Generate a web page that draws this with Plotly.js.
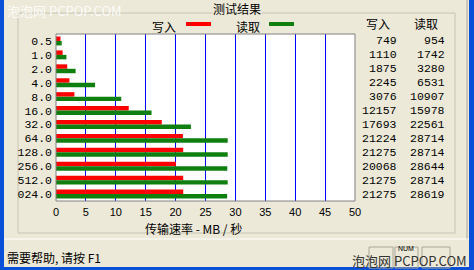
<!DOCTYPE html>
<html><head><meta charset="utf-8">
<script src="https://cdn.plot.ly/plotly-3.0.1.min.js"></script>
<style>html,body{margin:0;padding:0;background:#ECE9D8;}#chart{width:474px;height:270px;}</style>
</head><body><div id="chart"></div>
<script>
const categories = ["0.5","1.0","2.0","4.0","8.0","16.0","32.0","64.0","128.0","256.0","512.0","024.0"];
const writeKB = [749,1110,1875,2245,3076,12157,17693,21224,21275,20068,21275,21275];
const readKB  = [954,1742,3280,6531,10907,15978,22561,28714,28714,28644,28714,28619];
const xTicks = [0,5,10,15,20,25,30,35,40,45,50];
const seriesNames = ["写入","读取"];
const chartTitle = "测试结果";
const axisTitle = "传输速率 - MB / 秒";

const L=56, R=355, T=34, B=201;
const px = x => (x-L)/(R-L);
const py = y => (B-y)/(B-T);
const BG = "#ECE9D8", XPBLUE = "#0A4FD8";
const monoFont = {family:"Liberation Mono, DejaVu Sans Mono, monospace", size:11.5, color:"#000"};
const cjkFont = {family:"Noto Sans CJK SC, sans-serif", size:12, color:"#000"};

const traces = [
  {type:"bar", orientation:"h", y:categories, x:writeKB.map(v=>v/1000), marker:{color:"#FF0000", line:{width:0}}, name:seriesNames[0], hoverinfo:"none"},
  {type:"bar", orientation:"h", y:categories, x:readKB.map(v=>v/1000), marker:{color:"#0F800F", line:{width:0}}, name:seriesNames[1], hoverinfo:"none"}
];

const ann = [];
const shapes = [];
shapes.push({type:"rect", xref:"paper", yref:"paper", x0:px(0), x1:px(4), y0:py(0), y1:py(270), fillcolor:XPBLUE, line:{width:0}, layer:"below"});
shapes.push({type:"rect", xref:"paper", yref:"paper", x0:px(469), x1:px(474), y0:py(0), y1:py(270), fillcolor:XPBLUE, line:{width:0}, layer:"below"});
shapes.push({type:"rect", xref:"paper", yref:"paper", x0:px(0), x1:px(474), y0:py(267), y1:py(270), fillcolor:XPBLUE, line:{width:0}, layer:"below"});
shapes.push({type:"line", xref:"paper", yref:"paper", x0:px(467), x1:px(467), y0:py(0), y1:py(240), line:{color:"#ACA899", width:1}, layer:"below"});
shapes.push({type:"rect", xref:"paper", yref:"paper", x0:px(18), x1:px(455), y0:py(13), y1:py(233), line:{color:"#C8C4B4", width:1}, layer:"below"});
shapes.push({type:"line", xref:"paper", yref:"paper", x0:px(4), x1:px(469), y0:py(239), y1:py(239), line:{color:"#FFFFFF", width:1}, layer:"below"});
[[369,393],[395,418],[422,450]].forEach(p=>{
  shapes.push({type:"rect", xref:"paper", yref:"paper", x0:px(p[0]), x1:px(p[1]), y0:py(247), y1:py(268), line:{color:"#ACA899", width:1}, layer:"below"});
});
shapes.push({type:"rect", xref:"paper", yref:"paper", x0:0, x1:1, y0:0, y1:1, line:{color:"#808080", width:1}});
shapes.push({type:"line", xref:"paper", yref:"paper", x0:px(186), x1:px(211), y0:py(24), y1:py(24), line:{color:"#FF0000", width:4}});
shapes.push({type:"line", xref:"paper", yref:"paper", x0:px(269), x1:px(294), y0:py(24), y1:py(24), line:{color:"#0F800F", width:4}});

ann.push({xref:"paper", yref:"paper", x:px(237), y:py(8), text:chartTitle, showarrow:false, font:cjkFont, bgcolor:BG, borderpad:0, xanchor:"center", yanchor:"middle"});
ann.push({xref:"paper", yref:"paper", x:px(164), y:py(26), text:seriesNames[0], showarrow:false, font:cjkFont, xanchor:"center", yanchor:"middle"});
ann.push({xref:"paper", yref:"paper", x:px(248), y:py(26), text:seriesNames[1], showarrow:false, font:cjkFont, xanchor:"center", yanchor:"middle"});
ann.push({xref:"paper", yref:"paper", x:px(378), y:py(24), text:seriesNames[0], showarrow:false, font:cjkFont, xanchor:"center", yanchor:"middle"});
ann.push({xref:"paper", yref:"paper", x:px(426), y:py(24), text:seriesNames[1], showarrow:false, font:cjkFont, xanchor:"center", yanchor:"middle"});
categories.forEach((c,i)=>{
  ann.push({xref:"paper", yref:"y", x:px(399), y:i, text:String(writeKB[i]), showarrow:false, font:monoFont, xanchor:"right", yanchor:"middle"});
  ann.push({xref:"paper", yref:"y", x:px(447), y:i, text:String(readKB[i]), showarrow:false, font:monoFont, xanchor:"right", yanchor:"middle"});
});
ann.push({xref:"paper", yref:"paper", x:px(193), y:py(228), text:axisTitle, showarrow:false, font:cjkFont, xanchor:"center", yanchor:"middle"});
ann.push({xref:"paper", yref:"paper", x:px(5), y:py(257), text:"需要帮助, 请按 F1", showarrow:false, font:cjkFont, xanchor:"left", yanchor:"middle"});
ann.push({xref:"paper", yref:"paper", x:px(469), y:py(260), text:"泡泡网 PCPOP.COM", showarrow:false, font:{family:"Noto Sans CJK SC, sans-serif", size:13, color:"#333"}, xanchor:"right", yanchor:"middle"});
ann.push({xref:"paper", yref:"paper", x:px(406), y:py(248), text:"NUM", showarrow:false, font:{family:"Liberation Sans, sans-serif", size:7, color:"#000"}, xanchor:"center", yanchor:"middle"});
ann.push({xref:"paper", yref:"paper", x:px(5), y:py(11), text:"泡泡网 PCPOP.COM", showarrow:false, font:{family:"Noto Sans CJK SC, sans-serif", size:13, color:"rgba(255,255,255,0.85)"}, xanchor:"left", yanchor:"middle"});

const layout = {
  width:474, height:270,
  margin:{l:L, r:474-R, t:T, b:270-B, pad:0},
  paper_bgcolor:BG, plot_bgcolor:"#FFFFFF",
  showlegend:false, barmode:"group", bargap:0.36, bargroupgap:0,
  xaxis:{range:[0,50], tickvals:xTicks, ticktext:xTicks.map(String), showgrid:true, gridcolor:"#0000FF", gridwidth:1, zeroline:false, showline:false, ticks:"", ticklabelstandoff:3, tickfont:{family:"Liberation Sans, DejaVu Sans, sans-serif", size:11, color:"#000"}, fixedrange:true},
  yaxis:{type:"category", categoryorder:"array", categoryarray:categories, range:[categories.length-0.5,-0.5], autorange:false, tickmode:"linear", tick0:0, dtick:1, showgrid:false, zeroline:false, showline:false, ticks:"", ticklabelstandoff:3, tickfont:monoFont, fixedrange:true},
  shapes:shapes, annotations:ann,
  font:{family:"Noto Sans CJK SC, sans-serif"}
};
Plotly.newPlot("chart", traces, layout, {displayModeBar:false, staticPlot:true});
</script></body></html>
